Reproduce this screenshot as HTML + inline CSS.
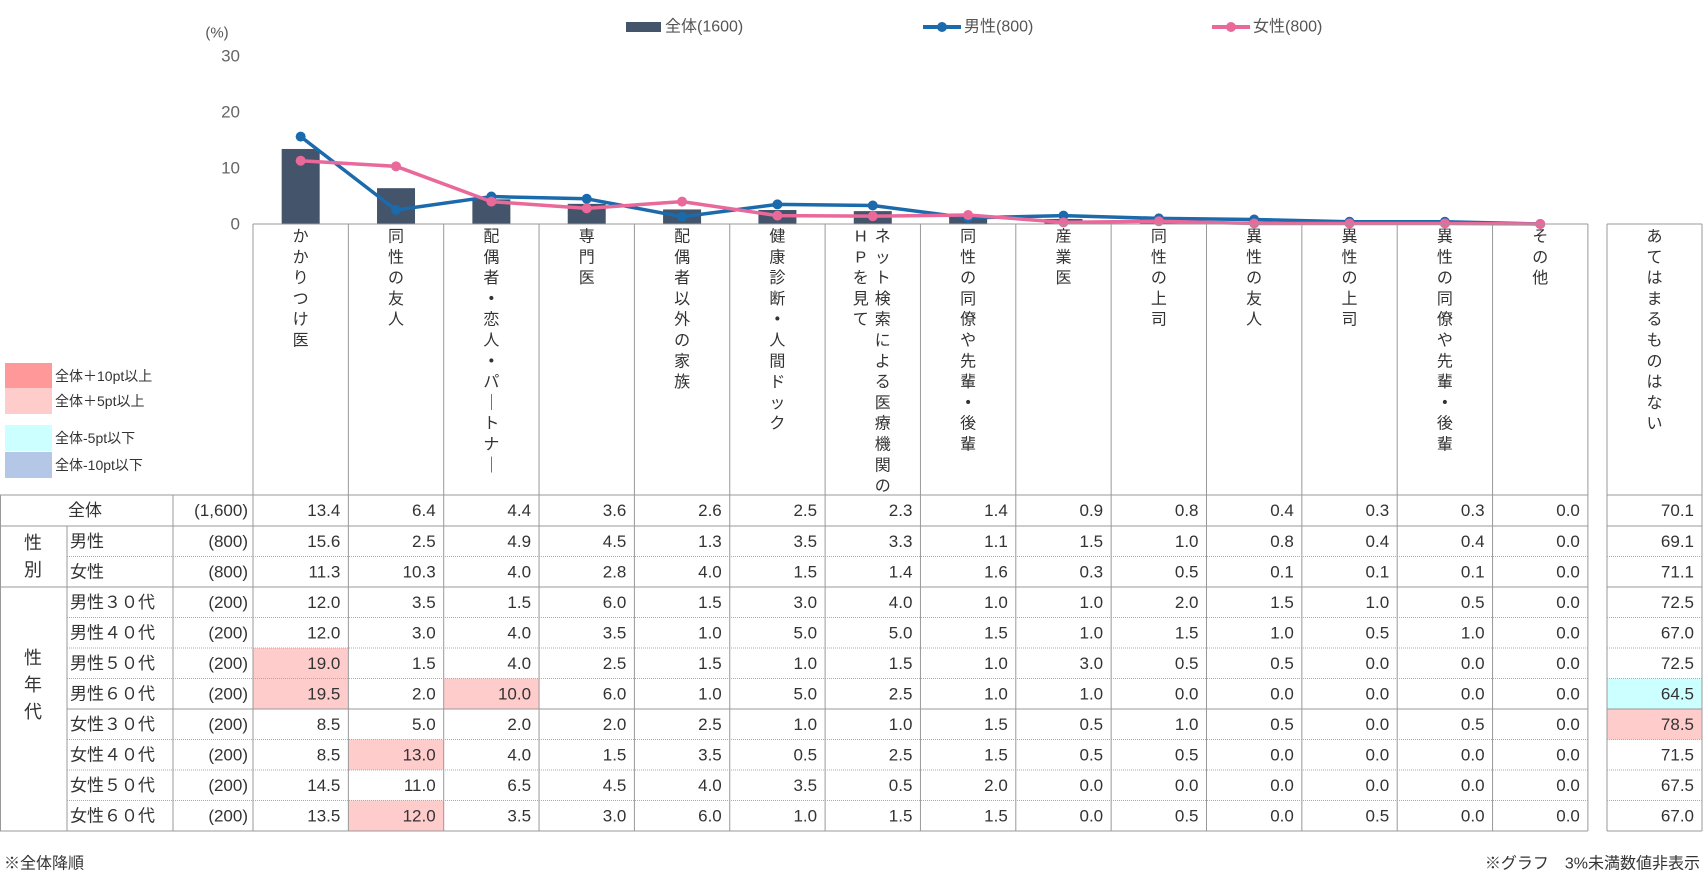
<!DOCTYPE html>
<html><head><meta charset="utf-8">
<style>
html,body{margin:0;padding:0;background:#fff;}
svg{display:block;font-family:"Liberation Sans","Noto Sans CJK JP",sans-serif;}
</style></head>
<body>
<svg id="chart" width="1703" height="875" viewBox="0 0 1703 875" xmlns="http://www.w3.org/2000/svg"></svg>
<script>
const categories=['かかりつけ医','同性の友人','配偶者・恋人・パ｜トナ｜','専門医','配偶者以外の家族','健康診断・人間ドック','ネット検索による医療機関の|HPを見て','同性の同僚や先輩・後輩','産業医','同性の上司','異性の友人','異性の上司','異性の同僚や先輩・後輩','その他'];
const extraCategory='あてはまるものはない';
const allValues=[13.4,6.4,4.4,3.6,2.6,2.5,2.3,1.4,0.9,0.8,0.4,0.3,0.3,0.0];
const maleValues=[15.6,2.5,4.9,4.5,1.3,3.5,3.3,1.1,1.5,1.0,0.8,0.4,0.4,0.0];
const femaleValues=[11.3,10.3,4.0,2.8,4.0,1.5,1.4,1.6,0.3,0.5,0.1,0.1,0.1,0.0];
const yTicks=[0,10,20,30];
const rowLabels=['全体','男性','女性','男性３０代','男性４０代','男性５０代','男性６０代','女性３０代','女性４０代','女性５０代','女性６０代'];
const rowN=['(1,600)','(800)','(800)','(200)','(200)','(200)','(200)','(200)','(200)','(200)','(200)'];
const tableValues=[
[13.4,6.4,4.4,3.6,2.6,2.5,2.3,1.4,0.9,0.8,0.4,0.3,0.3,0.0],
[15.6,2.5,4.9,4.5,1.3,3.5,3.3,1.1,1.5,1.0,0.8,0.4,0.4,0.0],
[11.3,10.3,4.0,2.8,4.0,1.5,1.4,1.6,0.3,0.5,0.1,0.1,0.1,0.0],
[12.0,3.5,1.5,6.0,1.5,3.0,4.0,1.0,1.0,2.0,1.5,1.0,0.5,0.0],
[12.0,3.0,4.0,3.5,1.0,5.0,5.0,1.5,1.0,1.5,1.0,0.5,1.0,0.0],
[19.0,1.5,4.0,2.5,1.5,1.0,1.5,1.0,3.0,0.5,0.5,0.0,0.0,0.0],
[19.5,2.0,10.0,6.0,1.0,5.0,2.5,1.0,1.0,0.0,0.0,0.0,0.0,0.0],
[8.5,5.0,2.0,2.0,2.5,1.0,1.0,1.5,0.5,1.0,0.5,0.0,0.5,0.0],
[8.5,13.0,4.0,1.5,3.5,0.5,2.5,1.5,0.5,0.5,0.0,0.0,0.0,0.0],
[14.5,11.0,6.5,4.5,4.0,3.5,0.5,2.0,0.0,0.0,0.0,0.0,0.0,0.0],
[13.5,12.0,3.5,3.0,6.0,1.0,1.5,1.5,0.0,0.5,0.0,0.5,0.0,0.0]];
const extraValues=[70.1,69.1,71.1,72.5,67.0,72.5,64.5,78.5,71.5,67.5,67.0];

const svg=document.getElementById('chart');
const NS='http://www.w3.org/2000/svg';
function mk(tag,attrs,parent){const e=document.createElementNS(NS,tag);for(const k in attrs)e.setAttribute(k,attrs[k]);(parent||svg).appendChild(e);return e;}
function txt(s,x,y,size,anchor,fill,parent){const t=mk('text',{x:x,y:y,'font-size':size,'text-anchor':anchor||'start',fill:fill||'#333','dominant-baseline':'central'},parent);t.textContent=s;return t;}

const plotL=253,colW=95.35,y0=224,pxPer=5.6;
const yScale=v=>y0-v*pxPer;
const xCenter=i=>plotL+colW*(i+0.5);
const tableTop=495,rowH=[31,30.5,30.5,30.5,30.5,30.5,30.5,30.5,30.5,30.5,30.5];
const rowY=[tableTop];for(const h of rowH)rowY.push(rowY[rowY.length-1]+h);
const plotR=plotL+colW*categories.length;
const exL=1607,exR=1702;

function cellColor(v,base){const d=v-base;if(d>=10)return '#ff9999';if(d>=5)return '#ffcccc';if(d<=-10)return '#b4c7e7';if(d<=-5)return '#ccffff';return null;}

const hl=mk('g',{});

for(let r=1;r<rowLabels.length;r++){
  for(let c=0;c<categories.length;c++){
    const col=cellColor(tableValues[r][c],tableValues[0][c]);
    if(col){const rc=mk('rect',{x:plotL+colW*c,y:rowY[r],width:colW,height:rowH[r],fill:col},hl);
      }
  }
  const col=cellColor(extraValues[r],extraValues[0]);
  if(col){const rc=mk('rect',{x:exL,y:rowY[r],width:exR-exL,height:rowH[r],fill:col},hl);
    }
}

txt('(%)',217,33,15,'middle','#555');
for(const t of yTicks){const e=txt(String(t),240,yScale(t),17,'end','#666');}

for(let i=0;i<categories.length;i++){
  const h=allValues[i]*pxPer;
  const b=mk('rect',{x:xCenter(i)-19,y:y0-h,width:38,height:h,fill:'#44546a'});
  
}
function line(vals,color,name){
  const g=mk('g',{});
  const pts=vals.map((v,i)=>xCenter(i)+','+yScale(v)).join(' ');
  mk('polyline',{points:pts,fill:'none',stroke:color,'stroke-width':3.5,'stroke-linejoin':'round'},g);
  vals.forEach((v,i)=>{const c=mk('circle',{cx:xCenter(i),cy:yScale(v),r:5,fill:color},g);});
}
line(maleValues,'#1a6aac','line-male');
line(femaleValues,'#e8699a','line-female');

const lg=mk('g',{});
mk('rect',{x:626,y:22,width:35,height:10,fill:'#44546a'},lg);
txt('全体(1600)',665,27,16,'start','#555',lg);
mk('line',{x1:923,y1:27,x2:961,y2:27,stroke:'#1a6aac','stroke-width':4},lg);mk('circle',{cx:942,cy:27,r:5,fill:'#1a6aac'},lg);
txt('男性(800)',964,27,16,'start','#555',lg);
mk('line',{x1:1212,y1:27,x2:1250,y2:27,stroke:'#e8699a','stroke-width':4},lg);mk('circle',{cx:1231,cy:27,r:5,fill:'#e8699a'},lg);
txt('女性(800)',1253,27,16,'start','#555',lg);

const key=[['全体＋10pt以上','#ff9999',363],['全体＋5pt以上','#ffcccc',388],['全体-5pt以下','#ccffff',425],['全体-10pt以下','#b4c7e7',452]];
for(const [t,c,y] of key){const g=mk('g',{});
  mk('rect',{x:5,y:y,width:47,height:26,fill:c},g);txt(t,55,y+13,14,'start','#333',g);}

const grid=mk('g',{stroke:'#999','stroke-width':1,fill:'none'});
mk('line',{x1:plotL,y1:y0,x2:plotR,y2:y0},grid);
mk('line',{x1:exL,y1:y0,x2:exR,y2:y0},grid);
for(let i=0;i<=categories.length;i++){const x=plotL+colW*i;mk('line',{x1:x,y1:y0,x2:x,y2:rowY[11]},grid);}
mk('line',{x1:exL,y1:y0,x2:exL,y2:rowY[11]},grid);mk('line',{x1:exR,y1:y0,x2:exR,y2:rowY[11]},grid);
mk('line',{x1:173,y1:rowY[0],x2:173,y2:rowY[11]},grid);
mk('line',{x1:67,y1:rowY[1],x2:67,y2:rowY[11]},grid);
mk('line',{x1:0.5,y1:rowY[0],x2:0.5,y2:rowY[11]},grid);
for(let r=0;r<=11;r++){
  const solid=[0,1,3,7,11].includes(r);
  const x0=[0,1,3,11].includes(r)?0:67;
  const attrs=solid?{}:{'stroke-dasharray':'1,1',stroke:'#aaa'};
  mk('line',Object.assign({x1:x0,y1:rowY[r],x2:plotR,y2:rowY[r]},attrs),grid);
  mk('line',Object.assign({x1:exL,y1:rowY[r],x2:exR,y2:rowY[r]},attrs),grid);
}

function vert(s,cx,name){
  const g=mk('g',{});
  [...s].forEach((ch,k)=>{const t=txt(ch,cx,237+k*20.8,16,'middle','#333',g);if(ch==='・')t.setAttribute('font-weight','bold');});
}
categories.forEach((c,i)=>{
  if(c.includes('|')){const [a,b]=c.split('|');vert(a,xCenter(i)+10,'category-label');vert(b,xCenter(i)-12,'category-label');}
  else vert(c,xCenter(i),'category-label');
});
vert(extraCategory,(exL+exR)/2,'category-label');

const g1=mk('g',{});
txt('性',33,rowY[1]+17,18,'middle','#333',g1);txt('別',33,rowY[1]+44,18,'middle','#333',g1);
const g2=mk('g',{});
txt('性',33,658,18,'middle','#333',g2);txt('年',33,685,18,'middle','#333',g2);txt('代',33,712,18,'middle','#333',g2);

for(let r=0;r<rowLabels.length;r++){
  const cy=rowY[r]+rowH[r]/2;
  const l=txt(rowLabels[r],r===0?68:70,cy,17,'start','#333');
  const n=txt(rowN[r],248,cy,17,'end','#333');
  for(let c=0;c<categories.length;c++){
    const t=txt(tableValues[r][c].toFixed(1),plotL+colW*(c+1)-8,cy,17,'end','#333');
    
  }
  const e=txt(extraValues[r].toFixed(1),exR-8,cy,17,'end','#333');
}
const f1=txt('※全体降順',4,864,16,'start','#333');
const f2=txt('※グラフ　3%未満数値非表示',1700,864,16,'end','#333');
</script>
</body></html>
